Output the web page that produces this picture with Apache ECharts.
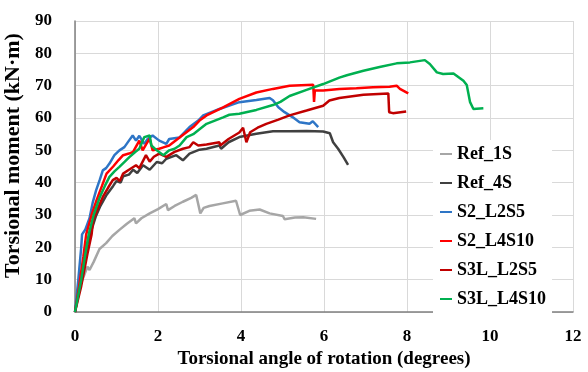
<!DOCTYPE html>
<html>
<head>
<meta charset="utf-8">
<script src="https://cdn.jsdelivr.net/npm/echarts@6/dist/echarts.min.js"></script>
<style>
  html, body { margin: 0; padding: 0; background: #fff; }
  #chart { width: 588px; height: 372px; }
</style>
</head>
<body>
<div id="chart"></div>
<script>
// series names, in legend order
const seriesNames = ['Ref_1S', 'Ref_4S', 'S2_L2S5', 'S2_L4S10', 'S3L_L2S5', 'S3L_L4S10'];
const seriesColors = ['#a6a6a6', '#404040', '#2e75c6', '#ff0000', '#c00000', '#00b050'];

// [rotation (deg), moment (kN·m)]
const ref1S = [[0,0],[0.08,5],[0.15,9],[0.3,14],[0.35,13],[0.45,15.5],[0.59,19.5],[0.75,21.3],[0.9,23.5],[1.07,25.4],
  [1.25,27.3],[1.43,29],[1.47,27.4],[1.6,29],[1.8,30.5],[2.0,31.8],[2.2,33.4],[2.24,31.5],[2.4,32.8],[2.6,34.1],
  [2.8,35.3],[2.92,36.2],[3.02,30.5],[3.1,32.2],[3.24,32.8],[3.56,33.6],[3.88,34.4],[3.98,30],[4.2,31.3],[4.45,31.7],
  [4.69,30.5],[5.01,29.7],[5.05,28.7],[5.3,29.2],[5.5,29.3],[5.81,28.8]];

const ref4S = [[0,0],[0.1,8],[0.2,15],[0.3,21],[0.4,25.5],[0.5,29.5],[0.6,32.5],[0.75,36],[0.92,39],[1.0,40.5],
  [1.1,40],[1.16,42],[1.3,42.5],[1.4,44],[1.5,43],[1.64,45.4],[1.8,44],[1.97,46.4],[2.1,46],[2.2,47.4],[2.44,48.5],
  [2.6,46.9],[2.76,49],[3.0,50.2],[3.17,50.5],[3.48,51.5],[3.52,50.5],[3.7,52.5],[3.96,54.1],[4.37,55.1],[4.77,55.9],
  [5.17,55.9],[5.58,56],[5.98,55.8],[6.14,55.3],[6.22,52.5],[6.34,50.5],[6.47,47.9],[6.58,45.5]];

const s2L2S5 = [[0,0],[0.08,10],[0.15,20],[0.17,24],[0.25,25.5],[0.35,29],[0.43,34],[0.51,37.7],[0.6,41],[0.67,43.8],
  [0.75,44.5],[0.83,45.9],[0.95,48.5],[1.07,50],[1.19,51],[1.3,53],[1.39,54.6],[1.47,53],[1.55,54.5],[1.67,52],
  [1.75,53.5],[1.87,54.6],[2.03,53],[2.2,52],[2.27,53.5],[2.52,54],[2.76,57.2],[2.97,59.2],[3.09,60.8],[3.48,62.8],
  [3.96,64.9],[4.37,65.6],[4.69,66.2],[4.77,65.5],[4.9,63.3],[5.05,61.8],[5.25,60.2],[5.41,58.7],[5.65,58.2],
  [5.73,59],[5.86,57.2]];

const s2L4S10 = [[0,0],[0.1,8],[0.2,17],[0.27,24],[0.4,30],[0.52,34.6],[0.65,39],[0.76,42.8],[0.92,45],[1.05,47],
  [1.16,48.5],[1.3,49],[1.4,49.5],[1.55,53],[1.63,50],[1.72,52],[1.8,53.6],[1.87,50],[2.03,50.5],[2.15,51],
  [2.27,51.5],[2.52,54],[2.85,57.2],[3.0,59.2],[3.17,60.8],[3.57,63.3],[3.96,65.9],[4.37,67.9],[4.77,69],[5.17,70],
  [5.74,70.3],[5.76,65],[5.78,68.5],[5.98,68.5],[6.37,69],[6.78,69.2],[7.18,69.5],[7.58,69.7],[7.75,70],[7.83,69],
  [8.03,67.6]];

const s3LL2S5 = [[0,0],[0.15,8],[0.3,18],[0.4,24],[0.44,28.5],[0.55,32],[0.67,35.6],[0.8,38.5],[0.91,40.8],[1.0,41.5],
  [1.08,40.5],[1.16,42.8],[1.3,44],[1.47,45.4],[1.55,44.5],[1.71,48.5],[1.8,46.5],[1.9,48],[2.03,49],[2.2,48],
  [2.4,49.5],[2.6,50.5],[2.76,51],[2.85,52.5],[2.97,51.5],[3.17,51.8],[3.48,52.5],[3.5,51.5],[3.7,53.5],[3.96,55.5],
  [4.05,57],[4.13,52.5],[4.22,55.6],[4.4,57],[4.61,58.2],[4.9,59.5],[5.17,60.8],[5.58,62.3],[5.98,63.8],[6.13,65.4],
  [6.37,66.2],[6.95,67.2],[7.55,67.6],[7.57,61.8],[7.66,61.5],[7.98,62]];

const s3LL4S10 = [[0,0],[0.15,10],[0.25,18],[0.33,24],[0.45,30],[0.6,35.6],[0.72,39],[0.83,41.8],[0.95,43.5],
  [1.07,44.9],[1.2,46.5],[1.31,47.9],[1.45,49.5],[1.55,50.5],[1.67,54.1],[1.8,54.6],[1.84,51.5],[1.97,50],[2.13,48.5],
  [2.27,50],[2.4,50.5],[2.52,51.5],[2.69,54.1],[2.85,55],[3.0,56.5],[3.17,58.2],[3.57,60.2],[3.72,61],[3.96,61.3],
  [4.37,62.5],[4.77,64],[4.95,65],[5.17,66.8],[5.58,68.7],[5.98,70.5],[6.37,72.5],[6.55,73.2],[6.95,74.6],[7.34,75.8],
  [7.75,76.9],[8.07,77.2],[8.43,77.9],[8.55,76.7],[8.72,74.1],[8.87,73.6],[9.12,73.8],[9.36,71.5],[9.44,70.2],
  [9.52,64.9],[9.6,62.8],[9.84,63]];

const seriesData = [ref1S, ref4S, s2L2S5, s2L4S10, s3LL2S5, s3LL4S10];

const font = 'Liberation Serif';

const chart = echarts.init(document.getElementById('chart'), null, { renderer: 'canvas' });

const options = {
  animation: false,
  backgroundColor: '#fff',
  grid: { left: 75, right: 15, top: 21, bottom: 60, containLabel: false, outerBoundsMode: 'none' },
  legend: {
    data: seriesNames,
    orient: 'vertical',
    left: 433,
    top: 140,
    backgroundColor: '#fff',
    padding: [4, 6, 4, 7],
    icon: 'rect',
    itemWidth: 12,
    itemHeight: 2,
    itemGap: 9,
    textStyle: { fontFamily: font, fontWeight: 'bold', fontSize: 18, lineHeight: 20, color: '#000' }
  },
  xAxis: {
    type: 'value',
    min: 0,
    max: 12,
    interval: 2,
    name: 'Torsional angle of rotation (degrees)',
    nameLocation: 'middle',
    nameGap: 36,
    nameTextStyle: { fontFamily: font, fontWeight: 'bold', fontSize: 19, color: '#000' },
    axisLine: { lineStyle: { color: '#808080', width: 1.5 } },
    axisTick: { show: false },
    axisLabel: { margin: 16, fontFamily: font, fontWeight: 'bold', fontSize: 17, color: '#000' },
    splitLine: { lineStyle: { color: '#d9d9d9', width: 1 } }
  },
  yAxis: {
    type: 'value',
    min: 0,
    max: 90,
    interval: 10,
    name: 'Torsional moment (kN·m)',
    nameLocation: 'middle',
    nameGap: 47,
    nameTextStyle: { fontFamily: font, fontWeight: 'bold', fontSize: 22, color: '#000', padding: [0, 0, 0, 22] },
    axisLine: { show: true, lineStyle: { color: '#808080', width: 1.5 } },
    axisTick: { show: false },
    axisLabel: { margin: 23, fontFamily: font, fontWeight: 'bold', fontSize: 17, color: '#000' },
    splitLine: { lineStyle: { color: '#d9d9d9', width: 1 } }
  },
  series: seriesNames.map((name, i) => ({
    name: name,
    type: 'line',
    symbol: 'none',
    showSymbol: false,
    color: seriesColors[i],
    lineStyle: { width: 2.5, color: seriesColors[i] },
    data: seriesData[i]
  }))
};

chart.setOption(options);
</script>
</body>
</html>
